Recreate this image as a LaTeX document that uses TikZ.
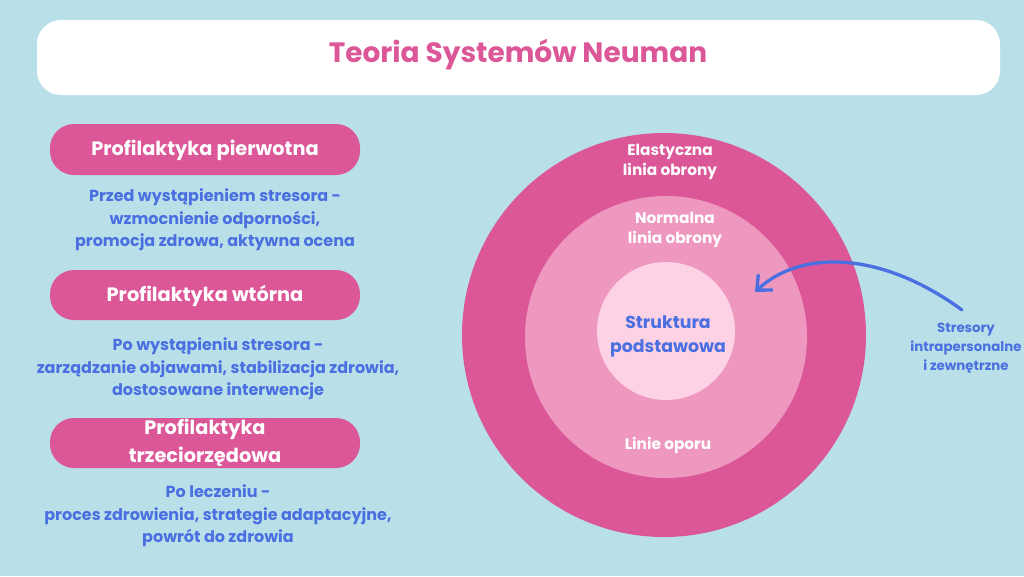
\documentclass[tikz,border=0pt]{standalone}
\usepackage{fontspec}
\setmainfont{Poppins}
\usetikzlibrary{arrows.meta}
\definecolor{bg}{HTML}{B9E0E9}
\definecolor{pk}{HTML}{DB5797}
\definecolor{pkm}{HTML}{EE98C0}
\definecolor{pkl}{HTML}{FCD2E4}
\definecolor{bl}{HTML}{4A6FE0}
\begin{document}
\begin{tikzpicture}[x=0.75pt,y=-0.75pt,
  pill/.style={fill=pk,rounded corners=18pt,draw=none},
  pilltxt/.style={text=white,font=\bfseries\fontsize{14.5}{17}\selectfont,align=center},
  desc/.style={text=bl,font=\bfseries\fontsize{12}{17}\selectfont,align=center},
  ctxt/.style={text=white,font=\bfseries\fontsize{11.5}{15}\selectfont,align=center}]
\fill[bg] (0,0) rectangle (1024,576);
\useasboundingbox (0,0) rectangle (1024,576);
\fill[white,rounded corners=18pt] (37,20) rectangle (1000,95);
\node[text=pk,font=\bfseries\fontsize{21}{25}\selectfont] (title) at (518,55) {Teoria Systemów Neuman};
% left
\fill[pill] (50,124) rectangle (360,175);
\node[pilltxt] (p1) at (205,150) {Profilaktyka pierwotna};
\node[desc] (d1) at (215,220) {Przed wystąpieniem stresora -\\wzmocnienie odporności,\\promocja zdrowa, aktywna ocena};
\fill[pill] (50,270) rectangle (360,320);
\node[pilltxt] (p2) at (205,296) {Profilaktyka wtórna};
\node[desc] (d2) at (218,369) {Po wystąpieniu stresora -\\zarządzanie objawami, stabilizacja zdrowia,\\dostosowane interwencje};
\fill[pill] (50,418) rectangle (360,468);
\node[pilltxt,font=\bfseries\fontsize{14.5}{21}\selectfont] (p3) at (205,443) {Profilaktyka\\trzeciorzędowa};
\node[desc] (d3) at (218,516) {Po leczeniu -\\proces zdrowienia, strategie adaptacyjne,\\powrót do zdrowia};
% circles
\fill[pk] (664,335) circle (202);
\fill[pkm] (666,337) circle (141);
\fill[pkl] (666,331) circle (69);
\node[ctxt] (c1) at (670,162) {Elastyczna\\linia obrony};
\node[ctxt] (c2) at (675,230) {Normalna\\linia obrony};
\node[desc,font=\bfseries\fontsize{13}{18}\selectfont] (c3) at (668,336) {Struktura\\podstawowa};
\node[ctxt] (c4) at (668,445) {Linie oporu};
\node[desc,font=\bfseries\fontsize{10}{14}\selectfont] (s) at (966,348) {Stresory\\intrapersonalne\\i zewnętrzne};
\coordinate (a0) at (962,310);
\coordinate (a1) at (755,292);
\draw[bl,line width=2.5pt,line cap=round,-{Straight Barb[length=9pt,width=16pt]}] (a0) .. controls (880,250) and (800,250) .. (a1);
\end{tikzpicture}
\end{document}
